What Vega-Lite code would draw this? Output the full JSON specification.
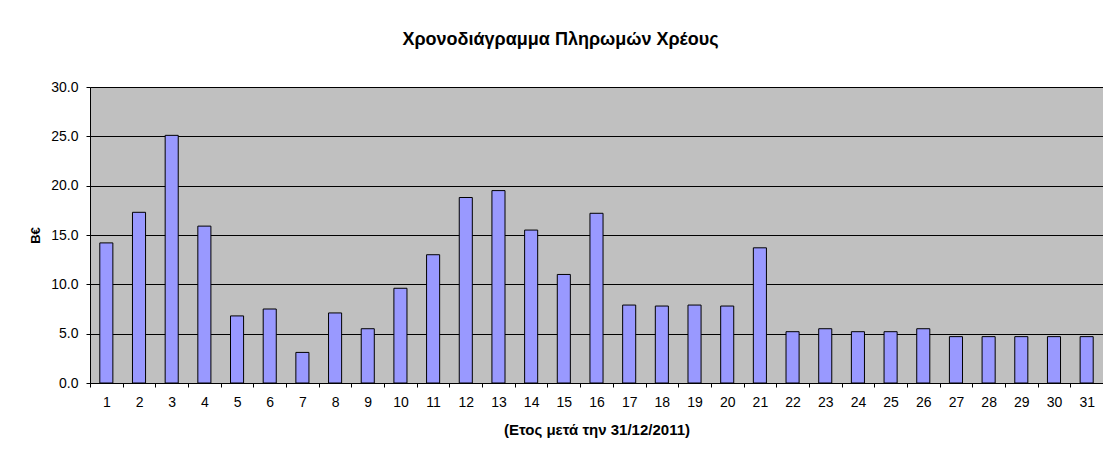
{
  "$schema": "https://vega.github.io/schema/vega-lite/v6.json",
  "width": 1013,
  "height": 296,
  "autosize": {"type": "none"},
  "padding": {"left": 90, "top": 87, "right": 0, "bottom": 68},
  "background": "white",
  "title": {
    "text": "Χρονοδιάγραμμα Πληρωμών Χρέους",
    "font": "Liberation Sans",
    "fontSize": 18,
    "fontWeight": "bold",
    "color": "black",
    "anchor": "middle",
    "dx": -36,
    "offset": 31
  },
  "data": {
    "values": [
      {"year": 1, "value": 14.2}, {"year": 2, "value": 17.3}, {"year": 3, "value": 25.1},
      {"year": 4, "value": 15.9}, {"year": 5, "value": 6.8}, {"year": 6, "value": 7.5},
      {"year": 7, "value": 3.1}, {"year": 8, "value": 7.1}, {"year": 9, "value": 5.5},
      {"year": 10, "value": 9.6}, {"year": 11, "value": 13.0}, {"year": 12, "value": 18.8},
      {"year": 13, "value": 19.5}, {"year": 14, "value": 15.5}, {"year": 15, "value": 11.0},
      {"year": 16, "value": 17.2}, {"year": 17, "value": 7.9}, {"year": 18, "value": 7.8},
      {"year": 19, "value": 7.9}, {"year": 20, "value": 7.8}, {"year": 21, "value": 13.7},
      {"year": 22, "value": 5.2}, {"year": 23, "value": 5.5}, {"year": 24, "value": 5.2},
      {"year": 25, "value": 5.2}, {"year": 26, "value": 5.5}, {"year": 27, "value": 4.7},
      {"year": 28, "value": 4.7}, {"year": 29, "value": 4.7}, {"year": 30, "value": 4.7},
      {"year": 31, "value": 4.7}
    ]
  },
  "mark": {"type": "bar", "fill": "#9999FF", "stroke": "#000000", "strokeWidth": 1, "width": {"band": 0.4}},
  "encoding": {
    "x": {
      "field": "year",
      "type": "ordinal",
      "sort": "ascending",
      "scale": {"paddingInner": 0, "paddingOuter": 0},
      "axis": {
        "title": "(Ετος μετά την 31/12/2011)",
        "titleFont": "Liberation Sans",
        "titleFontSize": 15,
        "titleFontWeight": "bold",
        "titleColor": "black",
        "titlePadding": 13,
        "labelAngle": 0,
        "labelFont": "Liberation Sans",
        "labelFontSize": 14,
        "labelColor": "black",
        "labelPadding": 8,
        "tickBand": "extent",
        "tickSize": 4,
        "tickColor": "black",
        "domainColor": "black",
        "grid": false
      }
    },
    "y": {
      "field": "value",
      "type": "quantitative",
      "scale": {"domain": [0, 30], "nice": false},
      "axis": {
        "title": "Β€",
        "titleFont": "Liberation Sans",
        "titleFontSize": 13,
        "titleFontWeight": "bold",
        "titleColor": "black",
        "titlePadding": 8,
        "values": [0, 5, 10, 15, 20, 25, 30],
        "format": ".1f",
        "labelFont": "Liberation Sans",
        "labelFontSize": 14,
        "labelColor": "black",
        "labelPadding": 8,
        "tickSize": 4,
        "tickColor": "black",
        "domainColor": "black",
        "grid": true,
        "gridColor": "black",
        "gridOpacity": 1,
        "gridWidth": 1
      }
    }
  },
  "config": {
    "view": {"fill": "#C0C0C0", "stroke": "#808080", "strokeWidth": 1}
  }
}
